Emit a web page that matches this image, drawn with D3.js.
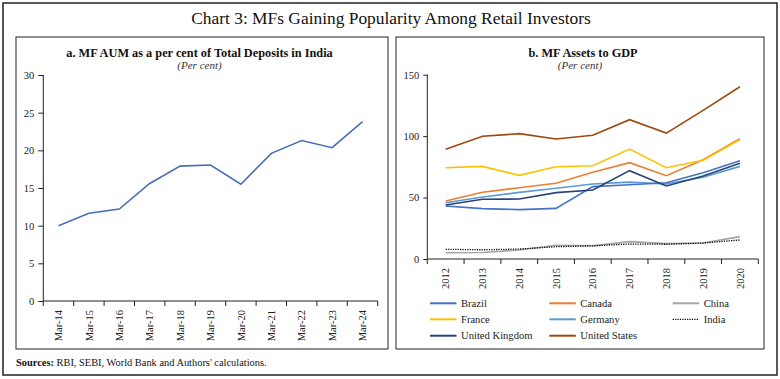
<!DOCTYPE html>
<html><head><meta charset="utf-8">
<script src="https://cdn.jsdelivr.net/npm/d3@7"></script>
<style>
body{margin:0;background:#fff;}
svg{display:block;font-family:"Liberation Serif","DejaVu Serif",serif;}
</style></head>
<body>
<svg id="c" width="780" height="379"></svg>
<script>
// Panel a data
const monthsA = ["Mar-14","Mar-15","Mar-16","Mar-17","Mar-18","Mar-19","Mar-20","Mar-21","Mar-22","Mar-23","Mar-24"];
const aumDeposits = [10.0,11.65,12.2,15.6,17.9,18.05,15.5,19.6,21.3,20.35,23.8];
const ticksA = [0,5,10,15,20,25,30];

// Panel b data
const yearsB = ["2012","2013","2014","2015","2016","2017","2018","2019","2020"];
const brazil  = [43.1,41.0,40.2,41.2,58.9,60.4,62.1,70.2,80.0];
const canada  = [47.2,54.3,58.0,61.6,70.6,78.4,67.8,80.8,97.9];
const china   = [5.1,5.3,7.3,11.2,10.8,14.1,12.5,13.0,18.2];
const france  = [74.3,75.4,68.1,75.1,75.9,89.5,74.3,80.4,97.2];
const germany = [45.8,50.4,54.2,57.6,61.0,62.6,61.0,66.5,75.4];
const india   = [7.9,7.5,8.1,10.0,10.7,12.2,12.0,13.0,15.5];
const uk      = [44.0,48.6,48.8,54.0,56.2,71.9,59.4,67.5,77.9];
const us      = [89.3,99.9,102.0,97.7,100.7,113.4,102.5,121.0,140.2];
const ticksB = [0,50,100,150];

const seriesB = [
  {name:"Brazil", values:brazil, color:"#4472C4"},
  {name:"Canada", values:canada, color:"#ED7D31"},
  {name:"China", values:china, color:"#A5A5A5"},
  {name:"France", values:france, color:"#FFC000"},
  {name:"Germany", values:germany, color:"#5B9BD5"},
  {name:"India", values:india, color:"#000000", dash:"1.2,1.2"},
  {name:"United Kingdom", values:uk, color:"#264478"},
  {name:"United States", values:us, color:"#9E480E"}
];

const svg = d3.select("#c");
const axisColor = "#222";

// borders
svg.append("rect").attr("x",3).attr("y",3).attr("width",774).attr("height",372)
  .attr("fill","none").attr("stroke","#222").attr("stroke-width",1.5);
svg.append("text").attr("x",391).attr("y",24).attr("text-anchor","middle")
  .attr("font-size",17.4).attr("fill","#111").text("Chart 3: MFs Gaining Popularity Among Retail Investors");
svg.append("rect").attr("x",16).attr("y",37).attr("width",372).attr("height",312)
  .attr("fill","none").attr("stroke","#222").attr("stroke-width",1);
svg.append("rect").attr("x",396).attr("y",37).attr("width",368).attr("height",312)
  .attr("fill","none").attr("stroke","#222").attr("stroke-width",1);

const src = svg.append("text").attr("x",16).attr("y",366).attr("font-size",10.4).attr("fill","#111");
src.append("tspan").attr("font-weight","bold").text("Sources: ");
src.append("tspan").text("RBI, SEBI, World Bank and Authors' calculations.");

function styleAxis(g){
  g.select(".domain").attr("stroke",axisColor).attr("stroke-width",1);
  g.selectAll(".tick line").attr("stroke",axisColor);
  g.selectAll(".tick text").attr("fill","#222").attr("font-size",10.5)
   .attr("font-family","'Liberation Serif','DejaVu Serif',serif");
}

// ---------- Panel a ----------
{
  svg.append("text").attr("x",199.5).attr("y",57).attr("text-anchor","middle")
    .attr("font-size",12.3).attr("font-weight","bold").attr("fill","#111")
    .text("a. MF AUM as a per cent of Total Deposits in India");
  svg.append("text").attr("x",199.5).attr("y",68.5).attr("text-anchor","middle")
    .attr("font-size",11).attr("font-style","italic").attr("fill","#333").text("(Per cent)");

  const x = d3.scaleBand().domain(monthsA).range([43.3,377.7]);
  const y = d3.scaleLinear().domain([0,30]).range([301,75]);
  const gy = svg.append("g").attr("transform","translate(43.3,0)")
    .call(d3.axisLeft(y).tickValues(ticksA).tickSize(5).tickPadding(4));
  styleAxis(gy);
  gy.select(".domain").attr("d",`M0,${y(30)}V${y(0)}`);
  const gx = svg.append("g").attr("transform","translate(0,301)")
    .call(d3.axisBottom(x).tickSize(0).tickFormat(d=>d));
  styleAxis(gx);
  gx.selectAll(".tick text").attr("transform","rotate(-90)").attr("text-anchor","end")
    .attr("x",-9).attr("y",0).attr("dy","0.35em");
  gx.select(".domain").attr("d",`M43.3,0H377.7`);
  const bounds = monthsA.map(m=>x(m)).concat([x.range()[1]]);
  gx.selectAll(".btick").data(bounds).enter().append("line")
    .attr("x1",d=>d).attr("x2",d=>d).attr("y1",0).attr("y2",5).attr("stroke",axisColor);

  const line = d3.line().x((d,i)=>x(monthsA[i])+x.bandwidth()/2).y(d=>y(d));
  svg.append("path").datum(aumDeposits).attr("d",line).attr("fill","none")
    .attr("stroke","#4A6EB5").attr("stroke-width",1.6);
}

// ---------- Panel b ----------
{
  svg.append("text").attr("x",583).attr("y",57).attr("text-anchor","middle")
    .attr("font-size",12.3).attr("font-weight","bold").attr("fill","#111").text("b. MF Assets to GDP");
  svg.append("text").attr("x",580).attr("y",68.5).attr("text-anchor","middle")
    .attr("font-size",11).attr("font-style","italic").attr("fill","#333").text("(Per cent)");

  const x = d3.scaleBand().domain(yearsB).range([427.3,758.3]);
  const y = d3.scaleLinear().domain([0,150]).range([259,74.7]);
  const gy = svg.append("g").attr("transform","translate(427.3,0)")
    .call(d3.axisLeft(y).tickValues(ticksB).tickSize(4).tickPadding(4));
  styleAxis(gy);
  gy.select(".domain").attr("d",`M0,${y(150)}V${y(0)}`);
  const gx = svg.append("g").attr("transform","translate(0,259)")
    .call(d3.axisBottom(x).tickSize(0));
  styleAxis(gx);
  gx.selectAll(".tick text").attr("transform","rotate(-90)").attr("text-anchor","end")
    .attr("x",-9).attr("y",0).attr("dy","0.35em");
  gx.select(".domain").attr("d",`M427.3,0H758.3`);
  const bounds = yearsB.map(m=>x(m)).concat([x.range()[1]]);
  gx.selectAll(".btick").data(bounds).enter().append("line")
    .attr("x1",d=>d).attr("x2",d=>d).attr("y1",0).attr("y2",5).attr("stroke",axisColor);

  const line = d3.line().x((d,i)=>x(yearsB[i])+x.bandwidth()/2).y(d=>y(d));
  const order = ["China","India","Germany","Brazil","United Kingdom","Canada","France","United States"];
  order.forEach(n=>{
    const s = seriesB.find(q=>q.name===n);
    svg.append("path").datum(s.values).attr("d",line).attr("fill","none")
      .attr("stroke",s.color).attr("stroke-width",s.dash?1.3:1.6)
      .attr("stroke-dasharray",s.dash||null);
  });

  // legend
  const colX = [430,549.3,672.7];
  const rowY = [303.3,319.3,335.7];
  const lg = svg.append("g");
  seriesB.forEach((s,i)=>{
    const cx = colX[i%3], cy = rowY[Math.floor(i/3)];
    lg.append("line").attr("x1",cx).attr("x2",cx+26.5).attr("y1",cy).attr("y2",cy)
      .attr("stroke",s.color).attr("stroke-width",s.dash?1.3:2)
      .attr("stroke-dasharray",s.dash||null);
    lg.append("text").attr("x",cx+31).attr("y",cy).attr("dy","0.35em")
      .attr("font-size",10.6).attr("fill","#222").text(s.name);
  });
}
</script>
</body></html>
